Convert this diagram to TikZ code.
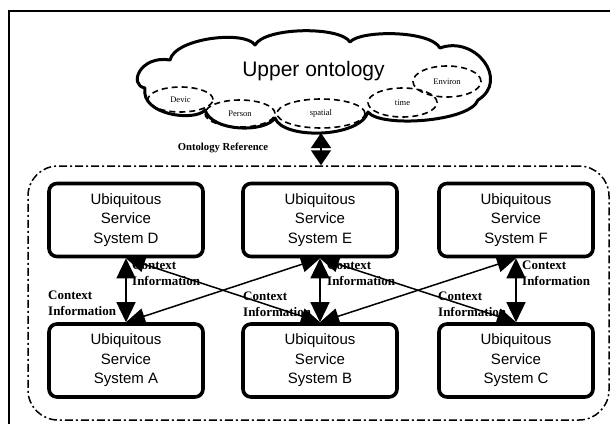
\documentclass[tikz,border=0pt]{standalone}
\usepackage{fontspec}
\setmainfont{Liberation Serif}
\newfontfamily\boxfont{Liberation Sans}
\usetikzlibrary{arrows.meta,shapes.geometric}

\begin{document}
\begin{tikzpicture}[x=1pt,y=-1pt,
  system/.style={draw, line width=3.6pt, rounded corners=8pt,
    minimum width=154pt, minimum height=73pt, align=center, inner sep=0pt,
    font=\boxfont\fontsize{15}{19.5}\selectfont},
  concept/.style={draw, ellipse, dash pattern=on 6pt off 4pt, line width=1.6pt,
    inner sep=0pt, font=\fontsize{8.5}{9}\selectfont},
  ctxlabel/.style={anchor=west, align=left, inner sep=0pt,
    font=\bfseries\fontsize{13}{16}\selectfont},
  link/.style={line width=1.5pt,
    {Triangle[length=20pt,width=19pt]}-{Triangle[length=20pt,width=19pt]}},
  cross/.style={line width=1.5pt,
    {Triangle[length=19pt,width=16pt]}-{Triangle[length=19pt,width=16pt]}},
  refarrow/.style={line width=1.5pt,
    {Triangle[length=15pt,width=20pt]}-{Triangle[length=15pt,width=20pt]}},
]
\useasboundingbox (0,0) rectangle (610,423);
\clip (0,0) rectangle (610,423);

% outer frame
\draw[line width=1.5pt] (9,11) rectangle (625,435);

% upper ontology cloud
\draw[line width=3pt, line join=round] (145,88)
  .. controls (128,85) and (140,55) .. (170,60)
  .. controls (175,38) and (245,30) .. (255,45)
  .. controls (265,27) and (340,26) .. (350,42)
  .. controls (360,30) and (430,30) .. (440,48)
  .. controls (475,35) and (510,80) .. (478,100)
  .. controls (470,122) and (380,128) .. (368,112)
  .. controls (360,138) and (283,140) .. (275,118)
  .. controls (265,133) and (212,132) .. (205,110)
  .. controls (195,122) and (140,115) .. (145,88) -- cycle;
\node[font=\boxfont\fontsize{21}{24}\selectfont] (upper) at (313.5,71) {Upper ontology};

% ontology concepts
\node[concept, minimum width=65pt, minimum height=25pt] (devic) at (180.5,99.5) {Devic};
\node[concept, minimum width=70pt, minimum height=27pt] (person) at (240,113.5) {Person};
\node[concept, minimum width=88pt, minimum height=29pt] (spatial) at (321,113.5) {spatial};
\node[concept, minimum width=69pt, minimum height=29pt] (time) at (402.5,102.5) {time};
\node[concept, minimum width=68pt, minimum height=31pt] (environ) at (447,81.5) {Environ};

\node[font=\bfseries\fontsize{10.7}{12}\selectfont] (ontref) at (223,148) {Ontology Reference};

% group of service systems
\node[draw, line width=1.5pt, rounded corners=30pt,
  dash pattern=on 8pt off 3pt on 2pt off 3pt,
  minimum width=581pt, minimum height=254pt] (group) at (318.5,293) {};

\coordinate (cloudbase) at (321,133);
\draw[refarrow] (cloudbase) -- (cloudbase |- group.north);

% service systems
\node[system] (sysD) at (126,220) {Ubiquitous\\Service\\System D};
\node[system] (sysE) at (320,220) {Ubiquitous\\Service\\System E};
\node[system] (sysF) at (516,220) {Ubiquitous\\Service\\System F};
\node[system] (sysA) at (126,360.5) {Ubiquitous\\Service\\System A};
\node[system] (sysB) at (320,360.5) {Ubiquitous\\Service\\System B};
\node[system] (sysC) at (516,360.5) {Ubiquitous\\Service\\System C};

% context information labels
\node[ctxlabel] (ctx1) at (48,303) {Context\\Information};
\node[ctxlabel] (ctx2) at (132,273) {Context\\Information};
\node[ctxlabel] (ctx3) at (327,273) {Context\\Information};
\node[ctxlabel] (ctx4) at (243,304.5) {Context\\Information};
\node[ctxlabel] (ctx5) at (522,273) {Context\\Information};
\node[ctxlabel] (ctx6) at (438,304.5) {Context\\Information};

% context exchange
\draw[cross] (sysD.south) -- (sysB.north);
\draw[cross] (sysE.south) -- (sysA.north);
\draw[cross] (sysE.south) -- (sysC.north);
\draw[cross] (sysF.south) -- (sysB.north);
\draw[link] (sysD.south) -- (sysA.north);
\draw[link] (sysE.south) -- (sysB.north);
\draw[link] (sysF.south) -- (sysC.north);
\end{tikzpicture}
\end{document}
